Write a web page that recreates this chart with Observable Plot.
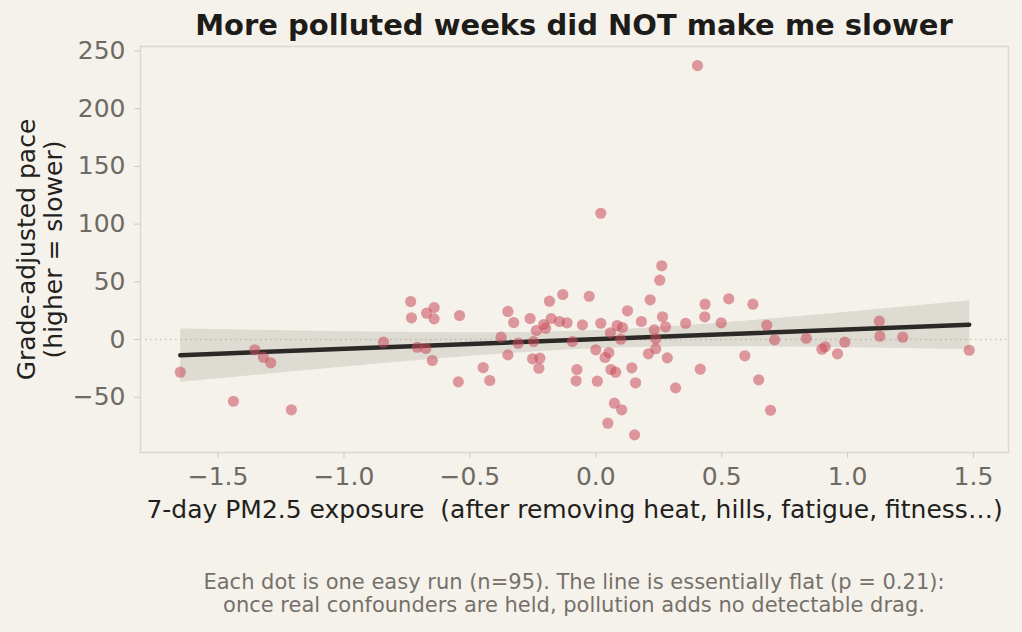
<!DOCTYPE html>
<html>
<head>
<meta charset="utf-8">
<script src="https://cdn.jsdelivr.net/npm/d3@7"></script>
<script src="https://cdn.jsdelivr.net/npm/@observablehq/plot@0.6"></script>
<style>
  html, body { margin: 0; padding: 0; background: #f5f2eb; }
  #wrap { position: relative; width: 1022px; height: 632px; font-family: "DejaVu Sans", sans-serif; }
  #title { position: absolute; left: 140px; width: 868px; top: 8px; text-align: center;
           font-size: 29px; line-height: 34px; font-weight: bold; color: #1e1c19; }
  #chart { position: absolute; left: 0; top: 0; }
  #caption { position: absolute; left: 140px; width: 868px; top: 571px; text-align: center;
             font-size: 21px; line-height: 23px; color: #75706a; }
</style>
</head>
<body>
<div id="wrap">
  <div id="chart"></div>
  <div id="title"></div>
  <div id="caption"></div>
</div>
<script>
const titleText = "More polluted weeks did NOT make me slower";
const xLabel = "7-day PM2.5 exposure \u00a0(after removing heat, hills, fatigue, fitness…)";
const yLabel = "Grade-adjusted pace\n(higher = slower)";
const captionLines = [
  "Each dot is one easy run (n=95). The line is essentially flat (p = 0.21):",
  "once real confounders are held, pollution adds no detectable drag."
];
const xTicks = [-1.5, -1.0, -0.5, 0.0, 0.5, 1.0, 1.5];
const yTicks = [-50, 0, 50, 100, 150, 200, 250];

const exposure = [
  -1.650, -1.439, -1.209, -1.354, -1.320, -1.291, -0.843, -0.735, -0.732, -0.672,
  -0.642, -0.642, -0.709, -0.675, -0.649, 0.020, -0.541, -0.349, -0.326, -0.261,
  -0.184, -0.131, -0.026, -0.177, -0.144, -0.114, -0.207, -0.199, -0.236, -0.053,
  0.020, 0.126, 0.085, 0.106, 0.058, 0.099, -0.376, -0.308, -0.247, -0.093,
  0.000, 0.052, 0.037, -0.349, -0.251, -0.222, -0.226, -0.447, -0.075, 0.060,
  0.079, -0.546, -0.421, -0.078, 0.006, 0.074, 0.103, 0.048, 0.154, 0.262,
  0.254, 0.216, 0.434, 0.528, 0.624, 0.433, 0.181, 0.265, 0.357, 0.498,
  0.679, 0.232, 0.277, 0.238, 0.710, 0.836, 0.238, 0.209, 0.284, 0.592,
  0.143, 0.415, 0.158, 0.317, 0.647, 0.694, 0.898, 0.911, 0.960, 0.989,
  1.126, 1.128, 1.219, 1.483, 0.404
];
const pace = [
  -28.3, -53.5, -60.9, -8.9, -15.3, -20.2, -2.3, 32.9, 18.8, 22.8,
  27.7, 17.9, -6.7, -7.8, -18.2, 109.4, 20.8, 24.3, 14.7, 18.2,
  33.2, 39.0, 37.5, 18.2, 15.6, 14.5, 13.0, 9.8, 7.8, 12.7,
  14.1, 24.9, 12.1, 10.4, 5.8, 0.3, 2.0, -3.2, -1.7, -1.7,
  -8.9, -11.3, -15.6, -13.3, -16.7, -16.2, -24.9, -24.3, -26.0, -26.0,
  -28.3, -36.7, -35.5, -35.8, -36.1, -55.2, -60.9, -72.5, -82.6, 63.9,
  51.4, 34.4, 30.6, 35.3, 30.6, 19.7, 15.6, 19.7, 14.1, 14.5,
  12.4, 8.4, 11.0, 0.6, -0.3, 1.1, -8.1, -12.4, -15.9, -14.1,
  -24.5, -25.7, -37.5, -41.9, -34.9, -61.3, -8.4, -6.3, -12.4, -2.3,
  15.9, 2.9, 2.0, -9.3, 237.4
];

const runs = exposure.map((x, i) => ({x, y: pace[i]}));

document.getElementById("title").textContent = titleText;
document.getElementById("caption").innerHTML = captionLines.map(s => `<div>${s}</div>`).join("");

const chart = Plot.plot({
  width: 1022,
  height: 540,
  marginTop: 46,
  marginLeft: 140,
  marginRight: 14,
  marginBottom: 88,
  style: {background: "transparent", fontFamily: "DejaVu Sans, sans-serif", overflow: "visible"},
  x: {domain: [-1.808, 1.639]},
  y: {domain: [-97.9, 253.9]},
  marks: [
    Plot.ruleY([0], {stroke: "#cbc5ba", strokeWidth: 1.5, strokeDasharray: "1.5,3.5"}),
    Plot.linearRegressionY(runs, {x: "x", y: "y", stroke: "#2a2926", strokeWidth: 4.5,
      fill: "#8c877d", fillOpacity: 0.22}),
    Plot.dot(runs, {x: "x", y: "y", r: 5.6, fill: "#c94a5a", fillOpacity: 0.55, stroke: "none"}),
    Plot.frame({stroke: "#ddd8ce", strokeWidth: 1.5}),
    Plot.axisX({ticks: xTicks, tickFormat: d3.format(".1f"), tickSize: 6, tickPadding: 9,
      fontSize: 25, stroke: "#cfc9be", fill: "#6f6a63", label: null}),
    Plot.axisY({ticks: yTicks, tickFormat: d3.format("d"), tickSize: 6, tickPadding: 9,
      fontSize: 25, stroke: "#cfc9be", fill: "#6f6a63", label: null}),
    Plot.text([xLabel], {frameAnchor: "bottom", dy: 57, lineAnchor: "middle",
      fontSize: 25, fill: "#221f1c"}),
    Plot.text([yLabel], {frameAnchor: "left", dx: -101, rotate: -90, lineAnchor: "middle",
      textAnchor: "middle", lineHeight: 1.1, fontSize: 25, fill: "#221f1c"})
  ]
});
document.getElementById("chart").appendChild(chart);
</script>
</body>
</html>
